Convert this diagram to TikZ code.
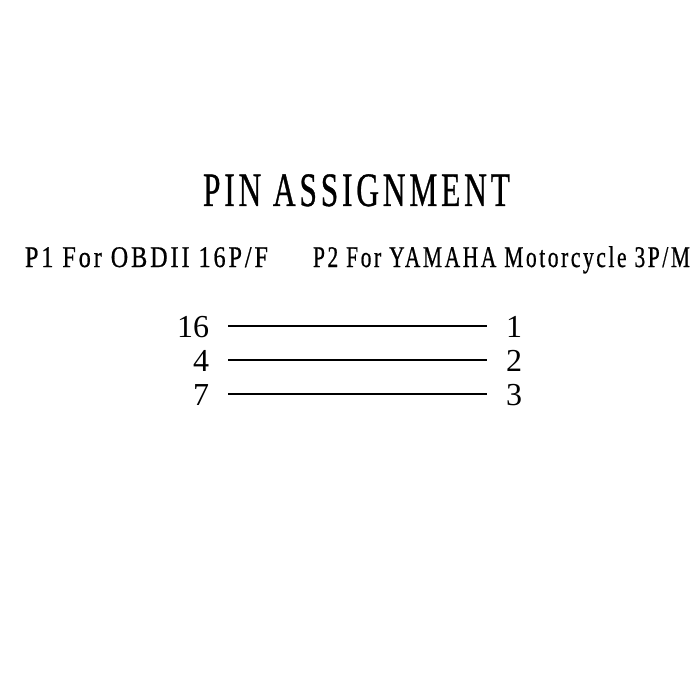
\documentclass[tikz,border=0pt]{standalone}
\usepackage{fontspec}
\setmainfont{Liberation Serif}
\newfontfamily\hdrfont[LetterSpace=12,FakeBold=0.8]{Liberation Serif}
\begin{document}
\begin{tikzpicture}[x=1pt,y=-1pt,
  lbl/.style={inner sep=0pt, outer sep=0pt},
  wire/.style={line width=2pt, line cap=butt},
  num/.style={lbl, font=\fontsize{32}{32}\selectfont}]
\useasboundingbox[fill=white] (0,0) rectangle (700,700);
% title
\node[lbl, anchor=base west] (title) at (203,206)
  {\hdrfont\fontsize{48}{48}\selectfont\resizebox{307pt}{\height}{PIN ASSIGNMENT}};
% connector headings
\node[lbl, anchor=base west] (p1) at (25,267)
  {\hdrfont\fontsize{30}{30}\selectfont\resizebox{243pt}{\height}{P1 For OBDII 16P/F}};
\node[lbl, anchor=base west] (p2) at (313,267)
  {\hdrfont\fontsize{30}{30}\selectfont\resizebox{377pt}{\height}{P2 For YAMAHA Motorcycle 3P/M}};
% pin numbers
\node[num, anchor=base east] (l16) at (209,337) {16};
\node[num, anchor=base east] (l4)  at (209,371) {4};
\node[num, anchor=base east] (l7)  at (209,405) {7};
\node[num, anchor=base east] (r1)  at (522,337) {1};
\node[num, anchor=base east] (r2)  at (522,371) {2};
\node[num, anchor=base east] (r3)  at (522,405) {3};
% wire ends
\coordinate (a1) at (228,326);
\coordinate (b1) at (487,326);
\coordinate (a2) at (228,360);
\coordinate (b2) at (487,360);
\coordinate (a3) at (228,394);
\coordinate (b3) at (487,394);
\draw[wire] (a1) -- (b1);
\draw[wire] (a2) -- (b2);
\draw[wire] (a3) -- (b3);
\end{tikzpicture}
\end{document}
